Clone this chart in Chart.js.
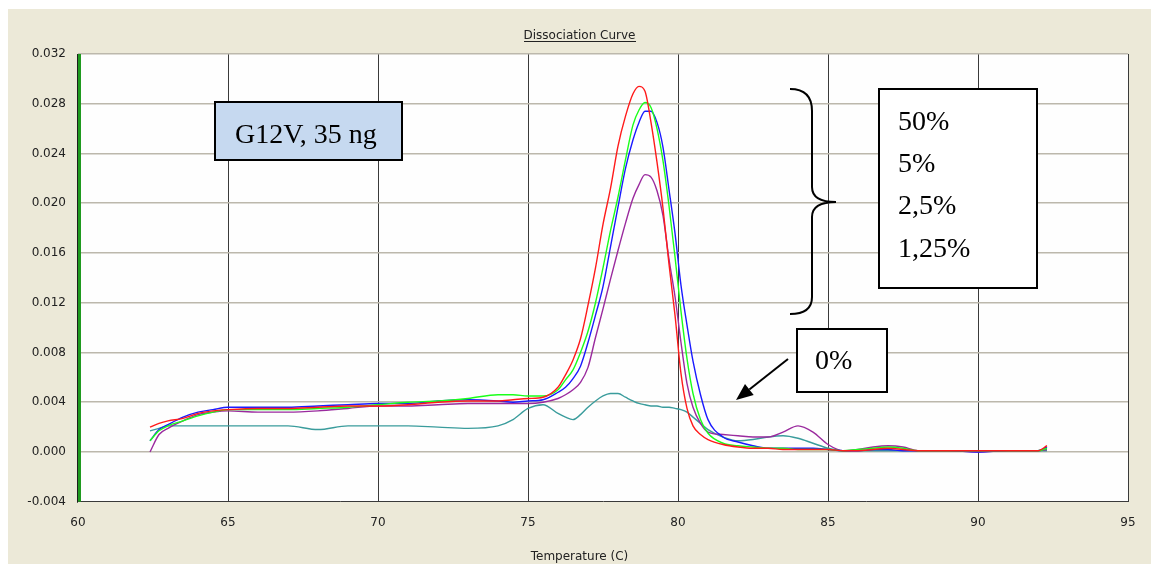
<!DOCTYPE html>
<html>
<head>
<meta charset="utf-8">
<title>Dissociation Curve</title>
<script src="https://cdn.jsdelivr.net/npm/chart.js@4.4.1/dist/chart.umd.min.js"></script>
<style>
  html, body { margin: 0; padding: 0; background: #fff; }
  #wrap { position: absolute; left: 8px; top: 9px; width: 1143px; height: 555px; background: #ece9d8; }
</style>
</head>
<body>
<div id="wrap"><canvas id="meltChart"></canvas></div>
<script>
// temperature steps (C), shared by every well
const temps = [62.4, 62.7, 63.0, 63.5, 64.0, 64.5, 65.0, 66.0, 67.0, 68.0, 69.0, 70.0, 71.0, 72.0, 73.0, 74.0, 74.5, 75.0, 75.5,
  76.0, 76.25, 76.5, 76.75, 77.0, 77.25, 77.5, 77.75, 78.0, 78.25, 78.5, 78.7, 78.9, 79.1, 79.3, 79.5, 79.7, 79.9,
  80.1, 80.3, 80.5, 80.75, 81.0, 81.5, 82.0, 82.5, 83.0, 83.5, 84.0, 84.5, 85.0, 85.5, 86.0, 86.5, 87.0, 87.5,
  88.0, 89.0, 90.0, 91.0, 92.0, 92.3];

// -dF/dT per mutant fraction
const mut50 = [0.0020, 0.0023, 0.0025, 0.0027, 0.0031, 0.0033, 0.0034, 0.0035, 0.0035, 0.0036, 0.0037, 0.0037, 0.0038, 0.0040, 0.0041, 0.0041, 0.0042, 0.0043, 0.0044,
  0.0052, 0.0062, 0.0074, 0.0091, 0.0118, 0.0148, 0.0183, 0.0212, 0.0246, 0.0270, 0.0288, 0.0294, 0.0290, 0.0265, 0.0233, 0.0196, 0.0151, 0.0110,
  0.0063, 0.0035, 0.0021, 0.0014, 0.0010, 0.0006, 0.0004, 0.0003, 0.0003, 0.0002, 0.0002, 0.0002, 0.0002, 0.0001, 0.0001, 0.0002, 0.0003, 0.0002,
  0.0001, 0.0001, 0.0001, 0.0001, 0.0001, 0.0005];
const mut5 = [0.0009, 0.0017, 0.0021, 0.0025, 0.0029, 0.0032, 0.0034, 0.0034, 0.0034, 0.0035, 0.0036, 0.0038, 0.0040, 0.0041, 0.0043, 0.0046, 0.0046, 0.0045, 0.0045,
  0.0050, 0.0058, 0.0066, 0.0080, 0.0097, 0.0120, 0.0148, 0.0178, 0.0205, 0.0235, 0.0263, 0.0275, 0.0281, 0.0277, 0.0260, 0.0234, 0.0198, 0.0157,
  0.0113, 0.0075, 0.0047, 0.0026, 0.0015, 0.0007, 0.0005, 0.0004, 0.0003, 0.0003, 0.0002, 0.0002, 0.0002, 0.0001, 0.0002, 0.0003, 0.0004, 0.0003,
  0.0001, 0.0001, 0.0001, 0.0001, 0.0001, 0.0003];
const mut25 = [0.0009, 0.0018, 0.0022, 0.0028, 0.0032, 0.0034, 0.0036, 0.0036, 0.0036, 0.0037, 0.0038, 0.0039, 0.0039, 0.0041, 0.0042, 0.0041, 0.0040, 0.0041, 0.0042,
  0.0048, 0.0052, 0.0059, 0.0069, 0.0088, 0.0110, 0.0133, 0.0165, 0.0197, 0.0228, 0.0251, 0.0265, 0.0274, 0.0274, 0.0265, 0.0245, 0.0211, 0.0176,
  0.0134, 0.0102, 0.0073, 0.0046, 0.0026, 0.0012, 0.0008, 0.0005, 0.0003, 0.0003, 0.0003, 0.0003, 0.0002, 0.0001, 0.0001, 0.0002, 0.0002, 0.0001,
  0.0001, 0.0001, 0.0000, 0.0001, 0.0001, 0.0004];
const mut125 = [0.0000, 0.0014, 0.0019, 0.0025, 0.0030, 0.0032, 0.0033, 0.0032, 0.0032, 0.0033, 0.0035, 0.0037, 0.0037, 0.0038, 0.0039, 0.0039, 0.0039, 0.0039, 0.0040,
  0.0043, 0.0046, 0.0050, 0.0056, 0.0068, 0.0092, 0.0115, 0.0139, 0.0162, 0.0184, 0.0204, 0.0215, 0.0223, 0.0221, 0.0210, 0.0190, 0.0155, 0.0125,
  0.0088, 0.0055, 0.0036, 0.0023, 0.0016, 0.0014, 0.0013, 0.0012, 0.0012, 0.0016, 0.0021, 0.0016, 0.0006, 0.0001, 0.0002, 0.0004, 0.0005, 0.0004,
  0.0001, 0.0001, 0.0000, 0.0001, 0.0001, 0.0002];
const mut0 = [0.0017, 0.0019, 0.0021, 0.0021, 0.0021, 0.0021, 0.0021, 0.0021, 0.0021, 0.0018, 0.0021, 0.0021, 0.0021, 0.0020, 0.0019, 0.0021, 0.0026, 0.0035, 0.0038,
  0.0031, 0.0028, 0.0026, 0.0030, 0.0036, 0.0041, 0.0045, 0.0047, 0.0047, 0.0044, 0.0041, 0.0039, 0.0038, 0.0037, 0.0037, 0.0036, 0.0036, 0.0035,
  0.0034, 0.0032, 0.0028, 0.0023, 0.0018, 0.0012, 0.0009, 0.0010, 0.0012, 0.0013, 0.0011, 0.0007, 0.0003, 0.0001, 0.0001, 0.0001, 0.0001, 0.0001,
  0.0001, 0.0001, 0.0001, 0.0001, 0.0001, 0.0001];

const seriesNames = ['50%', '5%', '2,5%', '1,25%', '0%'];
const seriesColors = ['#ff1a1a', '#1aff1a', '#1a1aff', '#9a2a9e', '#3a9c9c'];
const seriesValues = [mut50, mut5, mut25, mut125, mut0];

const xTicks = { min: 60, max: 95, step: 5 };
const yTicks = { min: -0.004, max: 0.032, step: 0.004 };

const axisFont = { family: 'DejaVu Sans', size: 12 };
const noteFont = '28px "Liberation Serif"';

// white plot area, header, axis caption and the hand-drawn notes
const decorations = {
  id: 'decorations',
  beforeDraw(chart) {
    const { ctx, chartArea: a } = chart;
    ctx.save();
    ctx.fillStyle = '#fefefe';
    ctx.fillRect(a.left, a.top, a.right - a.left, a.bottom - a.top);
    ctx.restore();
  },
  afterDraw(chart) {
    const { ctx, chartArea: a, width } = chart;
    ctx.save();

    // left axis: dark edge plus green bar
    ctx.fillStyle = '#1e1e1e';
    ctx.fillRect(a.left - 1, a.top, 1, a.bottom - a.top + 1);
    ctx.fillStyle = '#1f9a1f';
    ctx.fillRect(a.left, a.top, 3, a.bottom - a.top);

    // header, underlined
    ctx.fillStyle = '#222';
    ctx.font = '12px "DejaVu Sans"';
    ctx.textAlign = 'center';
    ctx.textBaseline = 'alphabetic';
    const title = 'Dissociation Curve';
    const tw = ctx.measureText(title).width;
    const cx = width / 2;
    ctx.fillText(title, cx, 30);
    ctx.fillRect(Math.round(cx - tw / 2), 32, Math.round(tw), 1);

    // axis caption
    ctx.fillText('Temperature (C)', cx, 551);

    ctx.lineWidth = 2;
    ctx.strokeStyle = '#000';
    ctx.textAlign = 'left';
    ctx.font = noteFont;

    // sample label
    ctx.fillStyle = '#c6d9f0';
    ctx.fillRect(207, 93, 187, 58);
    ctx.strokeRect(207, 93, 187, 58);
    ctx.fillStyle = '#000';
    ctx.fillText('G12V, 35 ng', 227, 134);

    // mutant fractions
    ctx.fillStyle = '#fff';
    ctx.fillRect(871, 80, 158, 199);
    ctx.strokeRect(871, 80, 158, 199);
    ctx.fillStyle = '#000';
    ['50%', '5%', '2,5%', '1,25%'].forEach((t, i) => ctx.fillText(t, 890, 120.5 + i * 42.4));

    // brace grouping the four peaks
    ctx.beginPath();
    ctx.moveTo(782, 80);
    ctx.bezierCurveTo(797, 80, 804, 87, 804, 102);
    ctx.lineTo(804, 178);
    ctx.bezierCurveTo(804, 188, 812, 193, 828, 193);
    ctx.bezierCurveTo(812, 193, 804, 198, 804, 208);
    ctx.lineTo(804, 288);
    ctx.bezierCurveTo(804, 299, 797, 305, 782, 305);
    ctx.stroke();

    // wild type label with arrow
    ctx.fillStyle = '#fff';
    ctx.fillRect(789, 320, 90, 63);
    ctx.strokeRect(789, 320, 90, 63);
    ctx.fillStyle = '#000';
    ctx.fillText('0%', 807, 359.5);

    const x0 = 780, y0 = 350, x1 = 728, y1 = 391;
    const ang = Math.atan2(y1 - y0, x1 - x0);
    const head = 17, half = 7;
    const bx = x1 - head * Math.cos(ang), by = y1 - head * Math.sin(ang);
    ctx.beginPath();
    ctx.moveTo(x0, y0);
    ctx.lineTo(bx, by);
    ctx.stroke();
    ctx.beginPath();
    ctx.moveTo(x1, y1);
    ctx.lineTo(bx + half * Math.sin(ang), by - half * Math.cos(ang));
    ctx.lineTo(bx - half * Math.sin(ang), by + half * Math.cos(ang));
    ctx.closePath();
    ctx.fill();

    ctx.restore();
  }
};

const datasets = seriesValues.map((vals, i) => ({
  label: seriesNames[i],
  data: temps.map((t, j) => ({ x: t, y: vals[j] })),
  borderColor: seriesColors[i],
  borderWidth: 1.4,
  pointRadius: 0,
  cubicInterpolationMode: 'monotone',
  fill: false
}));

new Chart(document.getElementById('meltChart'), {
  type: 'line',
  data: { datasets },
  plugins: [decorations],
  options: {
    responsive: true,
    maintainAspectRatio: false,
    animation: false,
    layout: { padding: { top: 45, right: 23, left: 0, bottom: 0 } },
    plugins: { legend: { display: false }, tooltip: { enabled: false }, title: { display: false } },
    scales: {
      x: {
        type: 'linear',
        min: xTicks.min,
        max: xTicks.max,
        ticks: { stepSize: xTicks.step, padding: 14, color: '#222', font: axisFont },
        grid: {
          drawTicks: false,
          color: c => (c.tick && c.tick.value === xTicks.min ? 'rgba(0,0,0,0)' : '#3a3a3a'),
          lineWidth: 1
        },
        border: { color: '#3a3a3a', width: 1 },
        afterFit: s => { s.height = 62.3; }
      },
      y: {
        type: 'linear',
        min: yTicks.min,
        max: yTicks.max,
        ticks: {
          stepSize: yTicks.step,
          padding: 12,
          color: '#222',
          font: axisFont,
          callback: v => Number(v).toFixed(3)
        },
        grid: {
          drawTicks: false,
          color: c => (c.tick && Math.abs(c.tick.value - yTicks.min) < 1e-9 ? 'rgba(0,0,0,0)' : '#bcb8ac'),
          lineWidth: 1.5
        },
        border: { display: false },
        afterFit: s => { s.width = 70; }
      }
    }
  }
});
</script>
</body>
</html>
